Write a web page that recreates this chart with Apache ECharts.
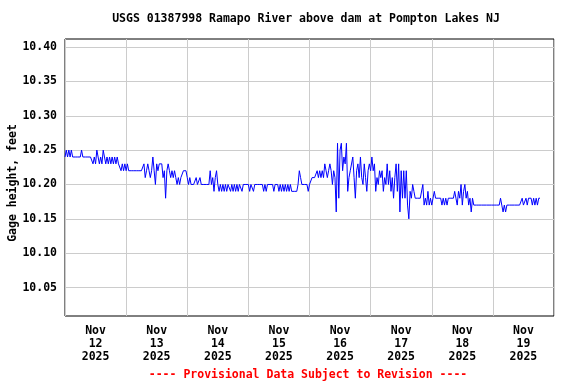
<!DOCTYPE html>
<html><head><meta charset="utf-8">
<script src="https://cdn.jsdelivr.net/npm/echarts@6/dist/echarts.min.js"></script>
<style>html,body{margin:0;padding:0;background:#fff}#c{width:576px;height:384px}</style>
</head><body><div id="c"></div>
<script>
const chartTitle = 'USGS 01387998 Ramapo River above dam at Pompton Lakes NJ';
const footerText = '---- Provisional Data Subject to Revision ----';
const yAxisName = 'Gage height, feet';
const dayLabels = ['Nov\n12\n2025','Nov\n13\n2025','Nov\n14\n2025','Nov\n15\n2025','Nov\n16\n2025','Nov\n17\n2025','Nov\n18\n2025','Nov\n19\n2025'];
const yTicks = [10.05, 10.10, 10.15, 10.20, 10.25, 10.30, 10.35, 10.40];
const yMin = 10.0086, yMax = 10.4117;
const xMaxHours = 192, dayHours = 24, stepHours = 0.5;

// gage height (ft), every 30 minutes from 00:00 of each day
const nov12 = [10.24,10.25,10.24,10.25,10.24,10.25,10.24,10.24,10.24,10.24,10.24,10.24,10.24,10.25,10.24,10.24,10.24,10.24,10.24,10.24,10.24,10.24,10.23,10.24,10.23,10.25,10.24,10.23,10.24,10.23,10.25,10.24,10.23,10.24,10.23,10.24,10.23,10.24,10.23,10.24,10.23,10.24,10.23,10.23,10.22,10.23,10.22,10.23];
const nov13 = [10.22,10.23,10.22,10.22,10.22,10.22,10.22,10.22,10.22,10.22,10.22,10.22,10.22,10.22,10.23,10.21,10.22,10.23,10.22,10.21,10.22,10.24,10.22,10.20,10.23,10.22,10.23,10.23,10.23,10.21,10.22,10.18,10.22,10.23,10.22,10.21,10.22,10.21,10.22,10.21,10.20,10.21,10.20,10.21,10.21,10.22,10.22,10.22];
const nov14 = [10.21,10.20,10.21,10.20,10.20,10.20,10.20,10.21,10.20,10.20,10.21,10.20,10.20,10.20,10.20,10.20,10.20,10.20,10.22,10.20,10.21,10.19,10.21,10.22,10.20,10.19,10.20,10.19,10.20,10.19,10.20,10.19,10.20,10.20,10.19,10.20,10.19,10.20,10.19,10.20,10.19,10.20,10.20,10.19,10.20,10.20,10.20,10.20];
const nov15 = [10.20,10.19,10.20,10.20,10.19,10.20,10.20,10.20,10.20,10.20,10.20,10.20,10.19,10.20,10.19,10.20,10.20,10.20,10.20,10.20,10.19,10.20,10.20,10.20,10.19,10.20,10.19,10.20,10.19,10.20,10.19,10.20,10.19,10.20,10.19,10.19,10.19,10.19,10.19,10.20,10.22,10.21,10.20,10.20,10.20,10.20,10.20,10.19];
const nov16 = [10.20,10.20,10.21,10.21,10.21,10.21,10.22,10.21,10.22,10.21,10.22,10.21,10.23,10.22,10.21,10.22,10.23,10.22,10.20,10.22,10.21,10.16,10.26,10.18,10.25,10.26,10.22,10.24,10.23,10.26,10.19,10.21,10.22,10.22,10.24,10.21,10.18,10.22,10.23,10.21,10.24,10.21,10.20,10.23,10.21,10.19,10.22,10.23];
const nov17 = [10.22,10.24,10.22,10.23,10.19,10.21,10.20,10.22,10.21,10.22,10.19,10.21,10.20,10.23,10.20,10.22,10.19,10.21,10.18,10.21,10.23,10.19,10.23,10.16,10.22,10.18,10.22,10.18,10.22,10.17,10.15,10.19,10.18,10.20,10.19,10.18,10.18,10.18,10.18,10.18,10.18,10.20,10.17,10.18,10.17,10.19,10.17,10.18];
const nov18 = [10.17,10.18,10.19,10.18,10.18,10.18,10.18,10.18,10.17,10.18,10.17,10.18,10.17,10.18,10.18,10.18,10.18,10.18,10.19,10.18,10.17,10.19,10.18,10.20,10.17,10.19,10.20,10.18,10.19,10.17,10.18,10.16,10.18,10.17,10.17,10.17,10.17,10.17,10.17,10.17,10.17,10.17,10.17,10.17,10.17,10.17,10.17,10.17];
const nov19 = [10.17,10.17,10.17,10.17,10.17,10.17,10.18,10.17,10.16,10.17,10.16,10.17,10.17,10.17,10.17,10.17,10.17,10.17,10.17,10.17,10.17,10.17,10.17,10.18,10.17,10.17,10.18,10.17,10.18,10.18,10.18,10.17,10.18,10.17,10.18,10.17,10.18,10.18];

const days = [nov12, nov13, nov14, nov15, nov16, nov17, nov18, nov19];
const seriesData = [];
days.forEach((vals, d) => vals.forEach((v, i) => seriesData.push([d * dayHours + i * stepHours, v])));

const FONT = '"DejaVu Sans Mono", "Liberation Mono", monospace';
const gridColor = '#cccccc';
const chart = echarts.init(document.getElementById('c'), null, {renderer: 'canvas'});
chart.setOption({
  animation: false,
  backgroundColor: '#ffffff',
  grid: {left: 65, top: 39, right: 22, bottom: 68, show: true, borderColor: '#000', borderWidth: 1, backgroundColor: 'transparent', containLabel: false, outerBoundsMode: 'none'},
  xAxis: [
    {type: 'value', min: 0, max: xMaxHours, interval: dayHours,
     axisLine: {show: false}, axisTick: {show: false}, axisLabel: {show: false},
     splitLine: {show: true, lineStyle: {color: gridColor, width: 1}}},
    {type: 'category', data: dayLabels, boundaryGap: true, position: 'bottom',
     axisLine: {show: false}, axisTick: {show: false}, splitLine: {show: false},
     axisLabel: {interval: 0, margin: 9, lineHeight: 13, color: '#000', fontFamily: FONT, fontWeight: 'bold', fontSize: 11.5}}
  ],
  yAxis: {
    type: 'value', min: yMin, max: yMax,
    axisLine: {show: false},
    axisTick: {show: false, customValues: yTicks},
    axisLabel: {customValues: yTicks, formatter: v => v.toFixed(2), margin: 8, color: '#000', fontFamily: FONT, fontWeight: 'bold', fontSize: 11.5},
    splitLine: {show: true, lineStyle: {color: gridColor, width: 1}},
    name: yAxisName, nameLocation: 'middle', nameRotate: 90, nameGap: 46, nameMoveOverlap: false,
    nameTextStyle: {color: '#000', fontFamily: FONT, fontWeight: 'bold', fontSize: 11.5, padding: [0, 11, 0, 0]}
  },
  graphic: [
    {type: 'text', x: 306, y: 19, silent: true, style: {text: chartTitle, align: 'center', verticalAlign: 'middle', fill: '#000', font: 'bold 11.5px ' + FONT}},
    {type: 'text', x: 308, y: 375, silent: true, style: {text: footerText, align: 'center', verticalAlign: 'middle', fill: '#ff0000', font: 'bold 11.5px ' + FONT}}
  ],
  series: [{
    type: 'line', xAxisIndex: 0, yAxisIndex: 0, data: seriesData,
    showSymbol: false, symbol: 'none', silent: true,
    lineStyle: {color: '#0000ff', width: 1}
  }]
});
</script></body></html>
